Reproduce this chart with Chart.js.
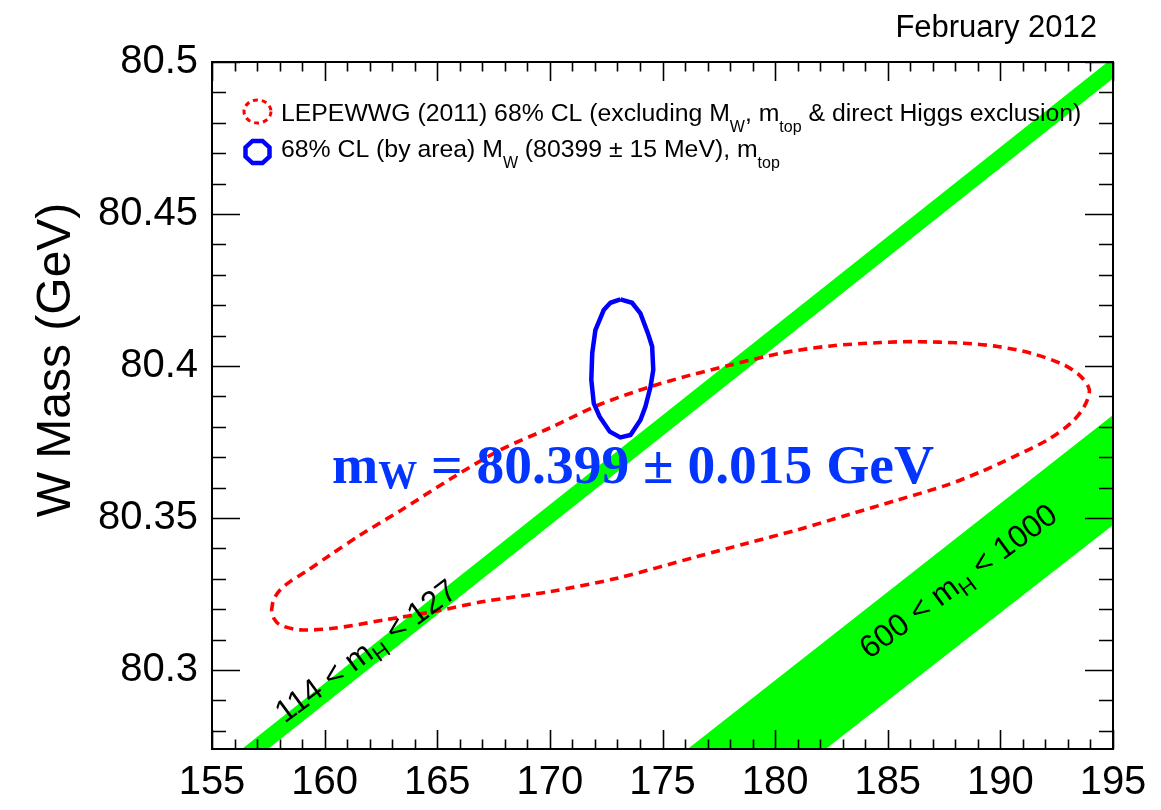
<!DOCTYPE html>
<html>
<head>
<meta charset="utf-8">
<script src="https://cdn.jsdelivr.net/npm/chart.js@4.4.0/dist/chart.umd.min.js"></script>
<style>
  html, body { margin: 0; padding: 0; background: #fff; }
</style>
</head>
<body>
<canvas id="wmassChart" width="1161" height="810"></canvas>
<script>
// x = top mass (GeV), y = W mass (GeV)
const xTicks = [155, 160, 165, 170, 175, 180, 185, 190, 195];
const yTicks = [80.3, 80.35, 80.4, 80.45, 80.5];
const yTickLabels = ['80.3', '80.35', '80.4', '80.45', '80.5'];

// SM bands, edges read at both ends of the x range
const lightBandUpper = [{x: 155, y: 80.2662}, {x: 195, y: 80.5014}];
const lightBandLower = [{x: 155, y: 80.2594}, {x: 195, y: 80.4946}];
const heavyBandUpper = [{x: 155, y: 80.1511}, {x: 195, y: 80.3839}];
const heavyBandLower = [{x: 155, y: 80.1166}, {x: 195, y: 80.3477}];

// LEPEWWG 68% CL contour (red dashed)
const lepX = [157.64, 157.73, 158.02, 158.51, 159.13, 160.24, 161.58, 163.36, 165.58, 167.80, 170.02, 172.24, 174.47,
              176.24, 178.02, 180.24, 182.47, 184.69, 186.17, 188.39, 189.88, 191.36, 192.84,
              193.58, 193.95, 193.72, 193.13, 192.10, 190.61, 189.13, 187.65, 185.43, 183.21,
              180.99, 178.76, 176.54, 172.99, 170.02, 167.06, 164.84, 162.61, 160.39, 158.91, 158.02, 157.76];
const lepY = [80.3194, 80.3230, 80.3263, 80.3293, 80.3322, 80.3378, 80.3444, 80.3524, 80.3628, 80.3724, 80.3797, 80.3874, 80.3932,
              80.3970, 80.4003, 80.4042, 80.4066, 80.4077, 80.4080, 80.4075, 80.4064, 80.4042, 80.4003,
              80.3965, 80.3921, 80.3866, 80.3812, 80.3757, 80.3702, 80.3652, 80.3609, 80.3559, 80.3510,
              80.3461, 80.3417, 80.3373, 80.3302, 80.3258, 80.3225, 80.3192, 80.3164, 80.3137, 80.3132, 80.3148, 80.3168];

// 68% CL (by area) from MW and mtop (blue)
const mwX = [173.13, 173.65, 174.02, 174.35, 174.54, 174.59, 174.47, 174.24, 174.02, 173.58,
             173.13, 172.66, 172.21, 171.95, 171.84, 171.88, 172.02, 172.39, 172.69];
const mwY = [80.4219, 80.4208, 80.4173, 80.4108, 80.4064, 80.3987, 80.3932, 80.3866, 80.3822, 80.3773,
             80.3765, 80.3784, 80.3833, 80.3877, 80.3954, 80.4042, 80.4118, 80.4184, 80.4208];

const SANS = '"Liberation Sans", Arial, Helvetica, sans-serif';
const SERIF = '"Liberation Serif", "Times New Roman", serif';

function closedPath(xs, ys) {
    const pts = xs.map((x, i) => ({x: x, y: ys[i]}));
    pts.push(pts[0]);
    return pts;
}

function bandShape(upper, lower) {
    const pts = upper.concat(lower.slice().reverse());
    pts.push(upper[0]);
    return pts;
}

// draws text pieces, some of them as subscripts
function drawRich(ctx, parts, x, y, font, subFont, subDrop) {
    let cx = x;
    parts.forEach(p => {
        ctx.font = p.sub ? subFont : font;
        ctx.fillText(p.t, cx, y + (p.sub ? subDrop : 0));
        cx += ctx.measureText(p.t).width;
    });
}

function richWidth(ctx, parts, font, subFont) {
    let w = 0;
    parts.forEach(p => {
        ctx.font = p.sub ? subFont : font;
        w += ctx.measureText(p.t).width;
    });
    return w;
}

const decorPlugin = {
    id: 'decor',
    afterDraw(chart) {
        const ctx = chart.ctx;
        const xs = chart.scales.x;
        const ys = chart.scales.y;
        const a = chart.chartArea;
        ctx.save();

        // frame + inside ticks, ROOT style
        ctx.strokeStyle = '#000';
        ctx.lineWidth = 1.6;
        ctx.beginPath();
        for (let v = 155; v <= 195; v++) {
            const px = Math.round(xs.getPixelForValue(v)) + 0.5;
            const len = v % 5 === 0 ? 19 : 9.5;
            ctx.moveTo(px, a.bottom); ctx.lineTo(px, a.bottom - len);
            ctx.moveTo(px, a.top); ctx.lineTo(px, a.top + len);
        }
        for (let k = 28; k <= 50; k++) {
            const py = Math.round(ys.getPixelForValue(80 + k / 100)) + 0.5;
            const len = k % 5 === 0 ? 28 : 14;
            ctx.moveTo(a.left, py); ctx.lineTo(a.left + len, py);
            ctx.moveTo(a.right, py); ctx.lineTo(a.right - len, py);
        }
        ctx.stroke();
        ctx.lineWidth = 2;
        ctx.strokeRect(a.left, a.top, a.right - a.left, a.bottom - a.top);

        ctx.fillStyle = '#000';
        ctx.textBaseline = 'alphabetic';

        // date stamp
        ctx.font = '31px ' + SANS;
        ctx.textAlign = 'right';
        ctx.fillText('February 2012', 1097, 37);

        // y title
        ctx.save();
        ctx.translate(70, 360);
        ctx.rotate(-Math.PI / 2);
        ctx.textAlign = 'center';
        ctx.font = '48px ' + SANS;
        ctx.fillText('W Mass (GeV)', 0, 0);
        ctx.restore();

        // legend
        ctx.textAlign = 'left';
        const lf = '24.8px ' + SANS, ls = '16px ' + SANS;
        drawRich(ctx, [
            {t: 'LEPEWWG (2011) 68% CL (excluding M'}, {t: 'W', sub: true},
            {t: ', m'}, {t: 'top', sub: true}, {t: ' & direct Higgs exclusion)'}
        ], 281, 121, lf, ls, 11);
        drawRich(ctx, [
            {t: '68% CL (by area) M'}, {t: 'W', sub: true},
            {t: ' (80399 \u00b1 15 MeV), m'}, {t: 'top', sub: true}
        ], 281, 157, lf, ls, 11);

        ctx.strokeStyle = '#ff0000';
        ctx.lineWidth = 3;
        ctx.setLineDash([5, 4]);
        ctx.beginPath();
        ctx.ellipse(257.5, 111.5, 13.5, 11.5, 0, 0, Math.PI * 2);
        ctx.stroke();
        ctx.setLineDash([]);
        ctx.strokeStyle = '#0000ff';
        ctx.lineWidth = 4.5;
        ctx.beginPath();
        for (let i = 0; i < 8; i++) {
            const t = (i + 0.5) * Math.PI / 4;
            const px = 257.5 + 13 * Math.cos(t), py = 152 + 12 * Math.sin(t);
            if (i === 0) ctx.moveTo(px, py); else ctx.lineTo(px, py);
        }
        ctx.closePath();
        ctx.stroke();

        // band labels, rotated along the bands
        const bandLabel = (parts, vx, vy) => {
            const f = '31.5px ' + SANS, sf = '22px ' + SANS;
            ctx.save();
            ctx.translate(xs.getPixelForValue(vx), ys.getPixelForValue(vy));
            ctx.rotate(-36.5 * Math.PI / 180);
            const w = richWidth(ctx, parts, f, sf);
            drawRich(ctx, parts, -w / 2, 0, f, sf, 7);
            ctx.restore();
        };
        bandLabel([{t: '114 < m'}, {t: 'H', sub: true}, {t: ' < 127'}], 162.1, 80.3035);
        bandLabel([{t: '600 < m'}, {t: 'H', sub: true}, {t: ' < 1000'}], 188.4, 80.3265);

        // MW result
        ctx.fillStyle = '#0335ff';
        drawRich(ctx, [
            {t: 'm'}, {t: 'W', sub: true}, {t: ' = 80.399 \u00b1 0.015 GeV'}
        ], 332, 483, 'bold 55.5px ' + SERIF, 'bold 39px ' + SERIF, 5);

        ctx.restore();
    }
};

const ctx = document.getElementById('wmassChart').getContext('2d');
const wmassChart = new Chart(ctx, {
    type: 'scatter',
    data: {
        datasets: [
            {
                label: '68% CL (by area) MW, mtop',
                data: closedPath(mwX, mwY),
                showLine: true,
                borderColor: '#0000ff',
                borderWidth: 4.5,
                pointRadius: 0,
                tension: 0,
                order: 0
            },
            {
                label: 'LEPEWWG (2011) 68% CL',
                data: closedPath(lepX, lepY),
                showLine: true,
                borderColor: '#ff0000',
                borderWidth: 3.6,
                borderDash: [9, 6],
                pointRadius: 0,
                tension: 0.3,
                order: 1
            },
            {
                label: '114 < mH < 127',
                data: bandShape(lightBandUpper, lightBandLower),
                showLine: true,
                borderWidth: 0,
                borderColor: 'rgba(0,0,0,0)',
                backgroundColor: '#00ff00',
                fill: 'shape',
                pointRadius: 0,
                order: 2
            },
            {
                label: '600 < mH < 1000',
                data: bandShape(heavyBandUpper, heavyBandLower),
                showLine: true,
                borderWidth: 0,
                borderColor: 'rgba(0,0,0,0)',
                backgroundColor: '#00ff00',
                fill: 'shape',
                pointRadius: 0,
                order: 3
            }
        ]
    },
    options: {
        responsive: false,
        animation: false,
        layout: { padding: { top: 62, right: 48, left: 0, bottom: 0 } },
        plugins: {
            legend: { display: false },
            tooltip: { enabled: false }
        },
        scales: {
            x: {
                type: 'linear',
                min: 155,
                max: 195,
                afterBuildTicks: s => { s.ticks = xTicks.map(v => ({value: v})); },
                afterFit: s => { s.height = 61; },
                grid: { display: false },
                border: { display: false },
                ticks: {
                    color: '#000',
                    font: { family: SANS, size: 40 },
                    padding: 2,
                    maxRotation: 0,
                    autoSkip: false
                }
            },
            y: {
                type: 'linear',
                min: 80.274,
                max: 80.5,
                afterBuildTicks: s => { s.ticks = yTicks.map(v => ({value: v})); },
                afterFit: s => { s.width = 212; },
                grid: { display: false },
                border: { display: false },
                ticks: {
                    color: '#000',
                    font: { family: SANS, size: 40 },
                    padding: 6,
                    autoSkip: false,
                    callback: (v, i) => yTickLabels[i]
                }
            }
        }
    },
    plugins: [decorPlugin]
});
</script>
</body>
</html>
